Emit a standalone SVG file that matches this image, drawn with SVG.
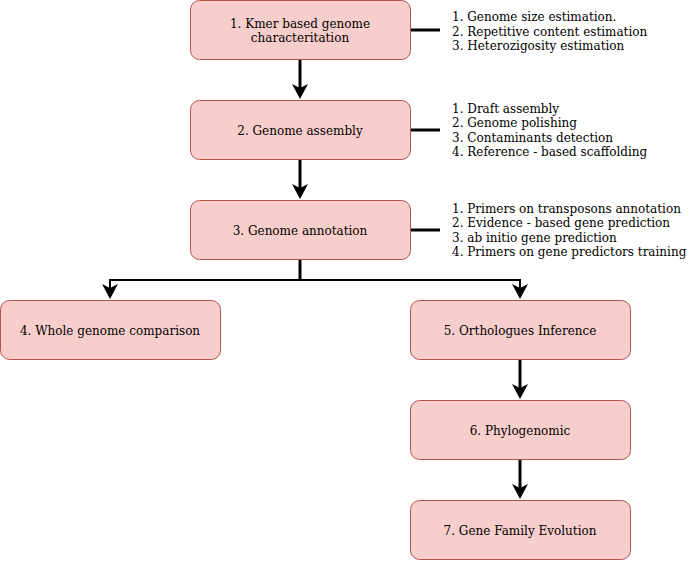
<svg xmlns="http://www.w3.org/2000/svg" width="691" height="561" viewBox="0 0 691 561">
<style>
  .box { fill: #f8cecc; stroke: #b85450; stroke-width: 1; }
  .lbl { font-family: "DejaVu Serif", serif; font-size: 12px; fill: #000; text-anchor: middle; }
  .note { font-family: "DejaVu Serif", serif; font-size: 12px; fill: #000; }
  .edge { fill: none; stroke: #000; stroke-width: 3; }
  .thin { stroke-width: 2; }
</style>
<defs>
  <marker id="arr" markerUnits="userSpaceOnUse" markerWidth="20" markerHeight="20" viewBox="-2 -10 20 20" refX="4" refY="0" orient="auto">
    <path d="M0,-8 L15,0 L0,8 L4,0 Z" fill="#000"/>
  </marker>
</defs>
<rect width="691" height="561" fill="#fff"/>
<g id="connectors">
  <path class="edge" d="M300,60 L300,88" marker-end="url(#arr)"/>
  <path class="edge" d="M300,160 L300,188" marker-end="url(#arr)"/>
  <path class="edge" d="M300,260 L300,280"/>
  <path class="edge thin" d="M300,280 L110,280 L110,288" marker-end="url(#arr)"/>
  <path class="edge thin" d="M300,280 L520,280 L520,288" marker-end="url(#arr)"/>
  <path class="edge" d="M520,360 L520,388" marker-end="url(#arr)"/>
  <path class="edge" d="M520,460 L520,488" marker-end="url(#arr)"/>
  <path class="edge" d="M410,30 L440,30"/>
  <path class="edge" d="M410,130 L440,130"/>
  <path class="edge" d="M410,230 L440,230"/>
</g>
<g id="node1">
  <rect class="box" x="190.5" y="0.5" width="220" height="59" rx="9"/>
  <text class="lbl" x="300" y="27.5">1. Kmer based genome</text>
  <text class="lbl" x="300" y="42">characteritation</text>
</g>
<g id="node2">
  <rect class="box" x="190.5" y="100.5" width="220" height="59" rx="9"/>
  <text class="lbl" x="300" y="134.5">2. Genome assembly</text>
</g>
<g id="node3">
  <rect class="box" x="190.5" y="200.5" width="220" height="59" rx="9"/>
  <text class="lbl" x="300" y="234.5">3. Genome annotation</text>
</g>
<g id="node4">
  <rect class="box" x="0.5" y="300.5" width="220" height="59" rx="9"/>
  <text class="lbl" x="110" y="334.5">4. Whole genome comparison</text>
</g>
<g id="node5">
  <rect class="box" x="410.5" y="300.5" width="220" height="59" rx="9"/>
  <text class="lbl" x="520" y="334.5">5. Orthologues Inference</text>
</g>
<g id="node6">
  <rect class="box" x="410.5" y="400.5" width="220" height="59" rx="9"/>
  <text class="lbl" x="520" y="434.5">6. Phylogenomic</text>
</g>
<g id="node7">
  <rect class="box" x="410.5" y="500.5" width="220" height="59" rx="9"/>
  <text class="lbl" x="520" y="534.5">7. Gene Family Evolution</text>
</g>
<g id="note1">
  <text class="note" x="452" y="21">1. Genome size estimation.</text>
  <text class="note" x="452" y="35.5">2. Repetitive content estimation</text>
  <text class="note" x="452" y="50">3. Heterozigosity estimation</text>
</g>
<g id="note2">
  <text class="note" x="452" y="112.5">1. Draft assembly</text>
  <text class="note" x="452" y="127">2. Genome polishing</text>
  <text class="note" x="452" y="141.5">3. Contaminants detection</text>
  <text class="note" x="452" y="156">4. Reference - based scaffolding</text>
</g>
<g id="note3">
  <text class="note" x="452" y="212.5">1. Primers on transposons annotation</text>
  <text class="note" x="452" y="227">2. Evidence - based gene prediction</text>
  <text class="note" x="452" y="241.5">3. ab initio gene prediction</text>
  <text class="note" x="452" y="256">4. Primers on gene predictors training</text>
</g>
</svg>
